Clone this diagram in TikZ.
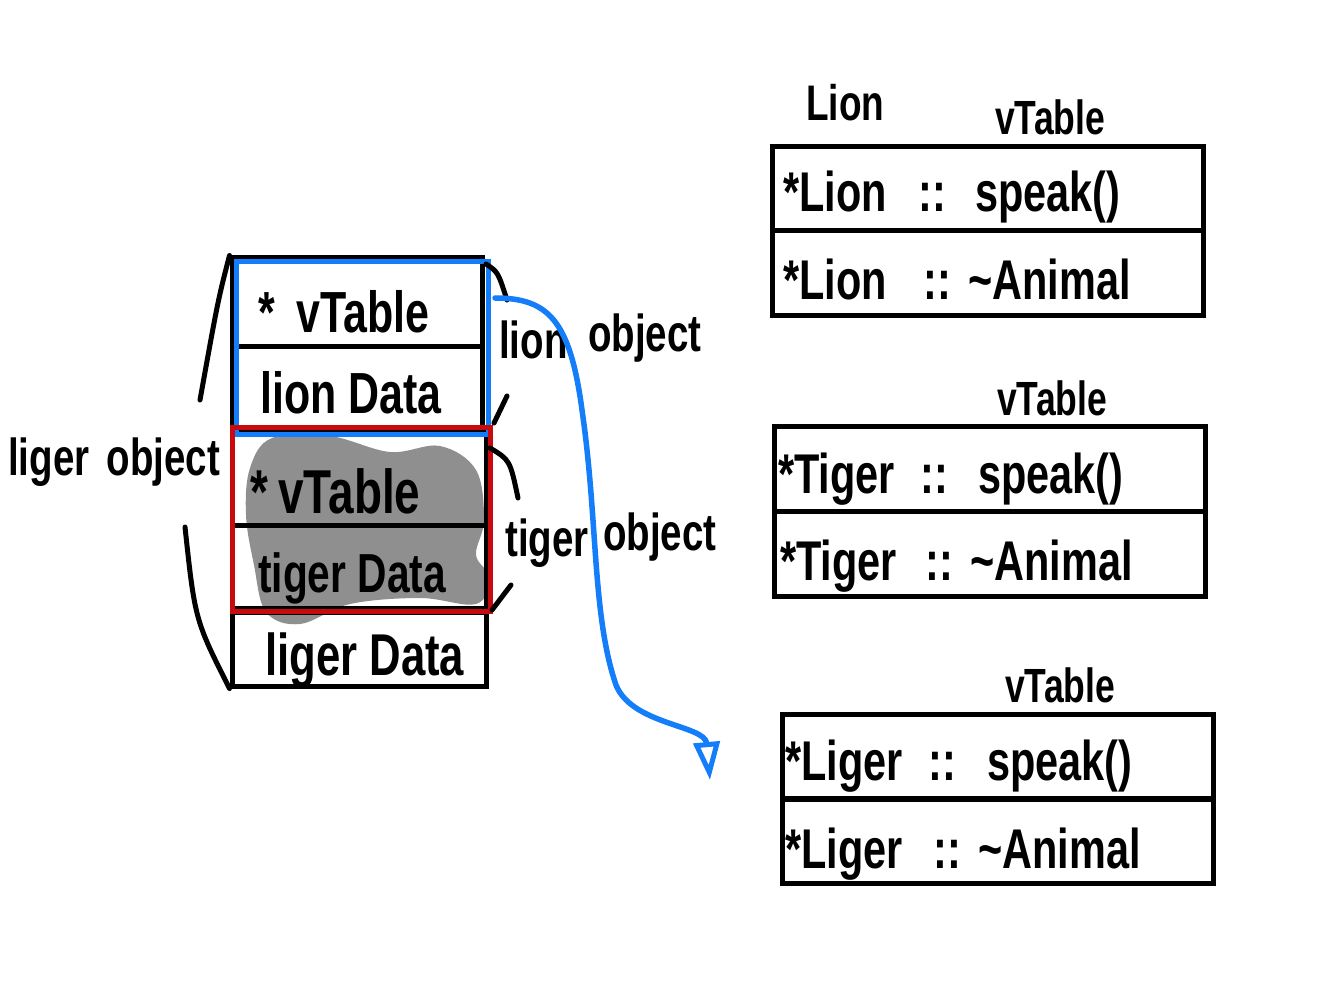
\documentclass[tikz,border=0pt]{standalone}
\usepackage{fontspec}
\newfontfamily\hand{Liberation Sans}[FakeStretch=0.74]
\usetikzlibrary{arrows.meta}
\definecolor{penblue}{RGB}{20,125,250}
\definecolor{penred}{RGB}{200,10,15}
\definecolor{smudge}{RGB}{143,143,143}
\begin{document}
\begin{tikzpicture}[x=1pt,y=-1pt,
  pen/.style={line width=5pt, line cap=round, line join=round},
  cell/.style={draw, line width=5pt, inner sep=0pt},
  trow/.style={draw, line width=5pt, inner sep=0pt, minimum width=431pt, minimum height=85pt},
  hw/.style={inner sep=0pt, anchor=base west},
  rowtxt/.style={hw, font=\hand\bfseries\fontsize{56}{60}\selectfont},
  ttl/.style={hw, font=\hand\bfseries\fontsize{48}{52}\selectfont},
  big/.style={hw, font=\hand\bfseries\fontsize{58}{62}\selectfont}]
\useasboundingbox (0,0) rectangle (1344,1000);

% gray smudge
\fill[smudge] plot[smooth cycle, tension=0.6] coordinates {(250,468) (272,438) (330,436) (390,452) (440,446) (476,470) (484,520) (476,555) (490,578) (476,604) (420,598) (350,604) (300,624) (266,612) (254,565) (246,515)};

% left stack cells
\node[cell, minimum width=250pt, minimum height=88pt] (cA) at (357,302) {};
\node[cell, minimum width=250pt, minimum height=84pt] (cB) at (357,388) {};
\node[cell, draw=none, minimum width=248pt, minimum height=93pt] (cC) at (360,476.5) {};
\node[cell, draw=none, minimum width=248pt, minimum height=83pt] (cD) at (360,564.5) {};
\draw[line width=5pt] (cC.south west) -- (cC.south east);
\draw[line width=5pt] (cC.north east) -- (cD.south east) -- (cD.south west);
\node[cell, minimum width=254pt, minimum height=74pt] (cE) at (359,649) {};

\node[big] (tA) at (258,333) {*\ \,vTable};
\node[big] (tB) at (260,413) {lion Data};
\node[hw, font=\hand\bfseries\fontsize{62}{66}\selectfont] (tC) at (250,513) {*\,vTable};
\node[hw, font=\hand\bfseries\fontsize{55}{60}\selectfont] (tD) at (258,592) {tiger Data};
\node[hw, font=\hand\bfseries\fontsize{59}{62}\selectfont] (tE) at (265,675) {liger Data};

% coloured outlines
\node[draw=penblue, line width=5pt, inner sep=0pt, minimum width=252pt, minimum height=172pt] (blueBox) at (362,348) {};
\node[draw=penred, line width=5pt, inner sep=0pt, minimum width=258pt, minimum height=184pt] (redBox) at (361,519) {};

% brackets
\coordinate (lg1) at (200,400);
\coordinate (lg2) at (185,527);
\coordinate (ln0) at (486,264);
\coordinate (ln1) at (507,300);
\coordinate (ln3) at (494,423);
\coordinate (ln2) at (507,396);
\coordinate (tg0) at (490,448);
\coordinate (tg1) at (518,498);
\coordinate (tg3) at (492,610);
\coordinate (tg2) at (511,585);
\draw[pen] (cA.north west) .. controls (218,300) .. (lg1);
\draw[pen] (lg2) .. controls (195,620) .. (cE.south west);
\draw[pen] (ln0) .. controls (498,272) .. (ln1);
\draw[pen] (ln3) -- (ln2);
\draw[pen] (tg0) .. controls (510,460) .. (tg1);
\draw[pen] (tg3) -- (tg2);

\node[hw, font=\hand\bfseries\fontsize{52}{56}\selectfont] (ligerObj) at (8,475) {liger\,\,object};
\node[hw, font=\hand\bfseries\fontsize{52}{58}\selectfont] (lionW) at (499,358) {lion};
\node[hw, font=\hand\bfseries\fontsize{52}{58}\selectfont] (objW1) at (588,352) {object};
\node[hw, font=\hand\bfseries\fontsize{52}{56}\selectfont] (tigerW) at (505,556) {tiger};
\node[hw, font=\hand\bfseries\fontsize{52}{56}\selectfont] (objW2) at (603,550) {object};

% tables
\node[hw, font=\hand\bfseries\fontsize{50}{56}\selectfont] (lionT) at (806,121) {Lion};
\node[ttl] (vt1) at (995,135) {vTable};
\node[trow, minimum height=84pt] (L1) at (987.5,189) {};
\node[trow] (L2) at (987.5,273.5) {};
\node[rowtxt] (L1a) at (783,212) {*Lion};
\node[rowtxt] (L1b) at (918,212) {::};
\node[rowtxt] (L1c) at (975,212) {speak()};
\node[rowtxt] (L2a) at (783,300) {*Lion};
\node[rowtxt] (L2b) at (923,300) {::};
\node[rowtxt] (L2c) at (968,300) {\textasciitilde Animal};

\node[ttl] (vt2) at (997,415) {vTable};
\node[trow] (T1) at (990,468.5) {};
\node[trow] (T2) at (990,553.5) {};
\node[rowtxt] (T1a) at (778,493) {*Tiger};
\node[rowtxt] (T1b) at (920,493) {::};
\node[rowtxt] (T1c) at (978,493) {speak()};
\node[rowtxt] (T2a) at (780,580) {*Tiger};
\node[rowtxt] (T2b) at (925,580) {::};
\node[rowtxt] (T2c) at (970,580) {\textasciitilde Animal};

\node[ttl] (vt3) at (1005,702) {vTable};
\node[trow] (G1) at (997.5,756.5) {};
\node[trow] (G2) at (997.5,841) {};
\node[rowtxt] (G1a) at (785,780) {*Liger};
\node[rowtxt] (G1b) at (928,780) {::};
\node[rowtxt] (G1c) at (987,780) {speak()};
\node[rowtxt] (G2a) at (785,868) {*Liger};
\node[rowtxt] (G2b) at (933,868) {::};
\node[rowtxt] (G2c) at (978,868) {\textasciitilde Animal};

% blue pointer arrow
\coordinate (src) at (495,298);
\coordinate (tip) at (710,780);
\draw[pen, line width=5.5pt, penblue, -{Triangle[open, length=38pt, width=26pt, line width=5pt]}]
  (src) .. controls (548,298) and (570,320) .. (582,410)
  .. controls (598,520) and (592,615) .. (616,685)
  .. controls (632,725) and (705,725) .. (tip);
\end{tikzpicture}
\end{document}
